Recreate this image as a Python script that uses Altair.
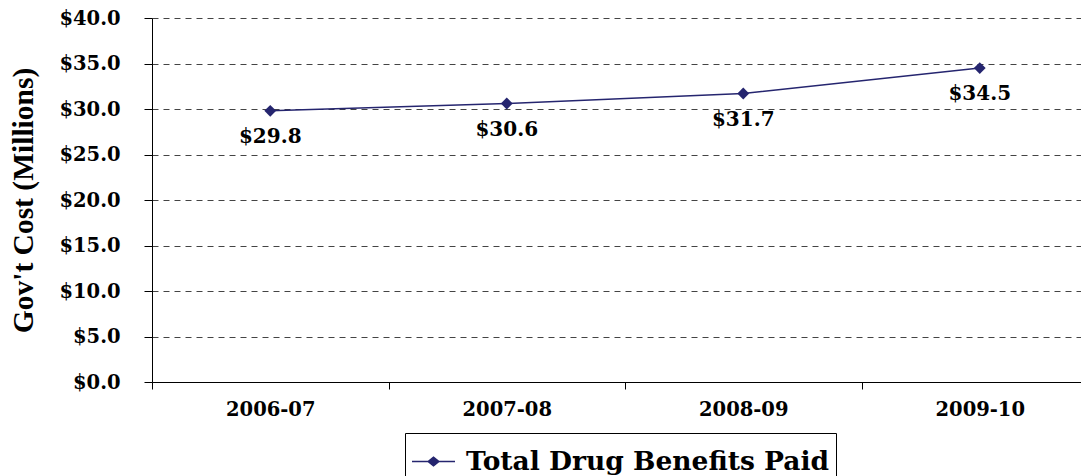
import altair as alt
import pandas as pd

years = ["2006-07", "2007-08", "2008-09", "2009-10"]
costs = [29.8, 30.6, 31.7, 34.5]
labels = ["$29.8", "$30.6", "$31.7", "$34.5"]
series = ["Total Drug Benefits Paid"] * 4

df = pd.DataFrame({"year": years, "cost": costs, "label": labels, "series": series})

NAVY = "#25256f"
FONT = "DejaVu Serif"
TFONT = "Liberation Serif"

x = alt.X("year:N", sort=years, title=None,
          scale=alt.Scale(paddingInner=0, paddingOuter=0, range=[0, 946]),
          axis=alt.Axis(labelAngle=0, tickBand="extent", labelFont=FONT, labelFontSize=19.5,
                        labelFontWeight="bold", labelColor="black", domainColor="black",
                        tickColor="black", tickSize=7, labelPadding=11, grid=False))
y = alt.Y("cost:Q", title="Gov't Cost (Millions)",
          scale=alt.Scale(domain=[0, 40], nice=False),
          axis=alt.Axis(values=[0, 5, 10, 15, 20, 25, 30, 35, 40], format="$.1f",
                        labelFont=FONT, labelFontSize=19.5, labelFontWeight="bold",
                        labelColor="black", domainColor="black", tickColor="black",
                        tickSize=8, labelPadding=24, titleFont=TFONT, titleFontSize=29.5,
                        titleFontWeight="bold", titleColor="black", titlePadding=20,
                        gridColor="#444", gridDash=[6, 5], gridWidth=1))

base = alt.Chart(df)

line = base.mark_line(color=NAVY, strokeWidth=1.5).encode(x=x, y=y)
pts = base.mark_point(filled=True, shape="diamond", size=140, opacity=1).encode(
    x=x, y=y,
    color=alt.Color("series:N", title=None,
                    scale=alt.Scale(range=[NAVY]),
                    legend=alt.Legend(orient="none", legendX=253, legendY=415,
                                      symbolType="M-1,0L1,0M-0.25,0L0,-0.2L0.25,0L0,0.2Z",
                                      symbolSize=1850, symbolFillColor=NAVY,
                                      symbolStrokeColor=NAVY, symbolStrokeWidth=1.5,
                                      labelFont=FONT, labelFontSize=26.5, labelFontWeight="bold",
                                      labelColor="black", strokeColor="black", padding=6,
                                      labelOffset=10, labelLimit=600, symbolOffset=0)))
txt = base.mark_text(dy=26, font=FONT, fontSize=20, fontWeight="bold", color="black").encode(
    x=x, y=y, text="label:N")

chart = (line + pts + txt).properties(
    width=929, height=364,
    autosize=alt.AutoSizeParams(type="none"),
    padding={"left": 144, "top": 10, "right": 0, "bottom": 94},
).configure_view(stroke=None)

chart.save("out.html", embed_options={"renderer": "svg", "actions": False})
